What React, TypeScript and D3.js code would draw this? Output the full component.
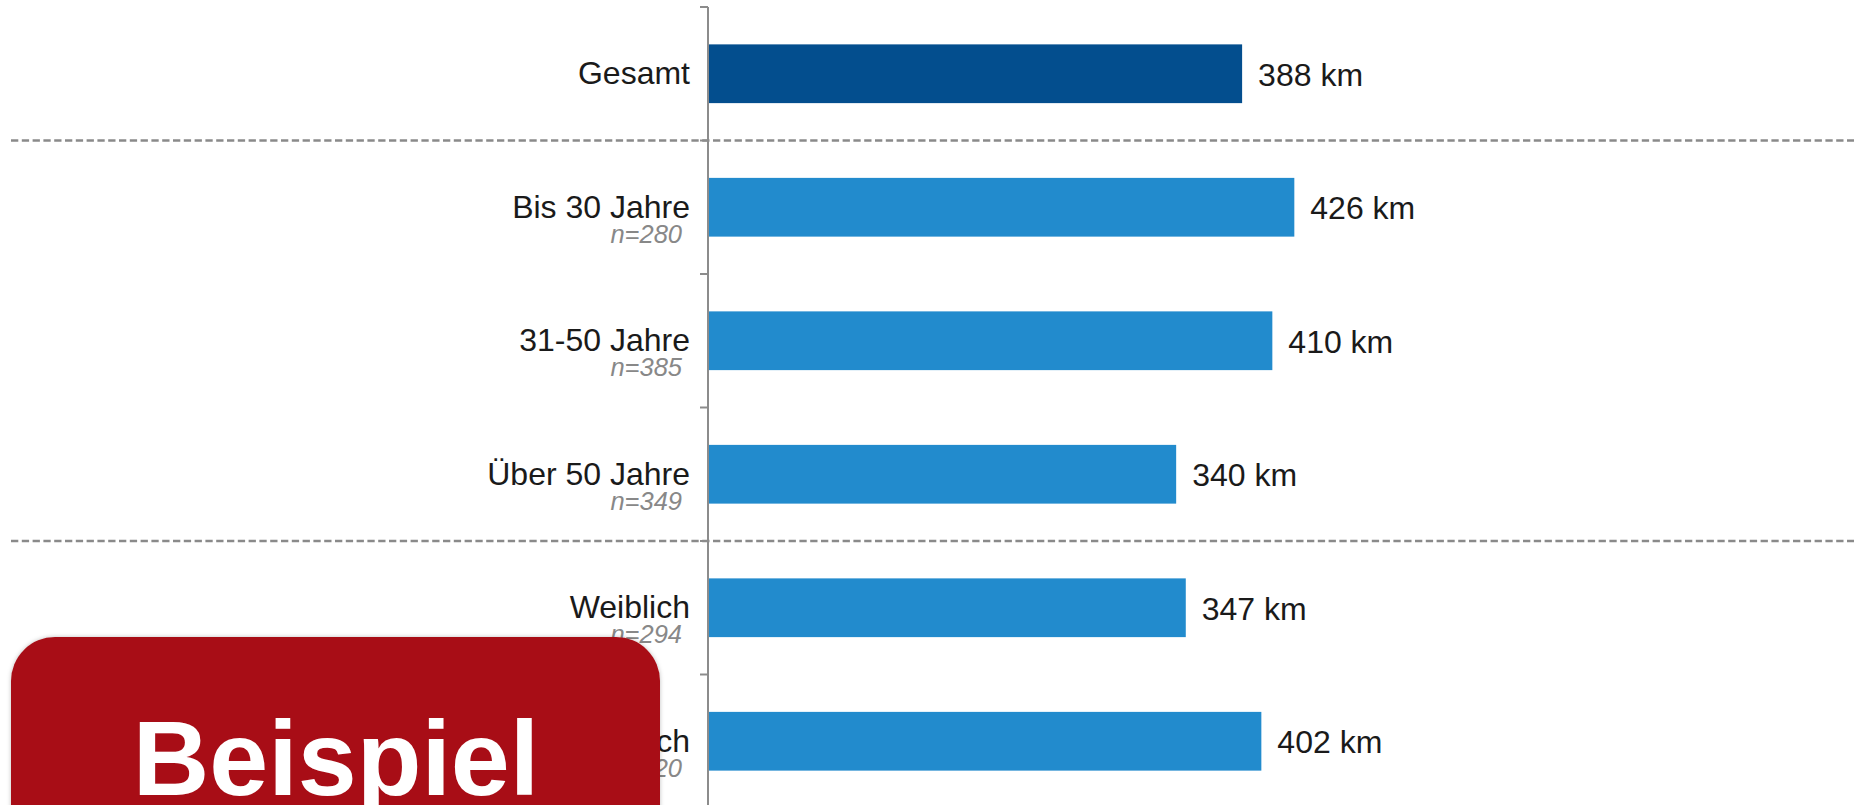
import React from "react";
import * as d3 from "d3";

const categories = ["Gesamt", "Bis 30 Jahre", "31-50 Jahre", "Über 50 Jahre", "Weiblich", "Männlich"];
const values = [388, 426, 410, 340, 347, 402];
const sampleSizes = ["", "n=280", "n=385", "n=349", "n=294", "n=720"];
const unit = "km";
const separatorsAfter = [0, 3];
const stampText = "Beispiel";

const W = 1856;
const H = 805;
const FONT = "'Liberation Sans', Arial, sans-serif";

export default function App() {
  const axisX = 709;
  const y = d3
    .scaleBand<string>()
    .domain(categories)
    .range([7, 808])
    .paddingInner(0.56)
    .paddingOuter(0.28);
  const x = d3.scaleLinear().domain([0, 800]).range([axisX, axisX + 800 * 1.374]);
  const step = y.step();
  const y0 = 7;
  const boundaries = d3.range(categories.length + 1).map((i) => y0 + i * step);

  return (
    <div style={{ position: "absolute", left: 0, top: 0, width: W, height: H, overflow: "hidden", background: "#fff" }}>
      <svg width={W} height={H} style={{ display: "block" }} fontFamily={FONT}>
        <rect x={0} y={0} width={W} height={H} fill="#fff" />
        {/* bars */}
        {categories.map((c, i) => (
          <rect
            key={c}
            x={x(0)}
            y={y(c)!}
            width={x(values[i]) - x(0)}
            height={y.bandwidth()}
            fill={i === 0 ? "#034E8E" : "#228BCD"}
          />
        ))}
        {/* separators */}
        {separatorsAfter.map((i) => (
          <line
            key={"sep" + i}
            x1={11}
            x2={1854}
            y1={boundaries[i + 1]}
            y2={boundaries[i + 1]}
            stroke="#8a8a8a"
            strokeWidth={2.5}
            strokeDasharray="7.3 3.5"
          />
        ))}
        {/* axis */}
        <line x1={axisX - 1} x2={axisX - 1} y1={boundaries[0]} y2={H} stroke="#8c8c8c" strokeWidth={2} />
        {boundaries.map((b, i) => (
          <line key={"t" + i} x1={axisX - 9} x2={axisX - 1} y1={b} y2={b} stroke="#8c8c8c" strokeWidth={2} />
        ))}
        {/* category labels */}
        {categories.map((c, i) => {
          const cy = y(c)! + y.bandwidth() / 2;
          return (
            <g key={"l" + c}>
              <text x={690} y={cy + 10.5} textAnchor="end" fontSize={32} fill="#1a1a1a">
                {c}
              </text>
              {sampleSizes[i] && (
                <text x={682} y={cy + 35.5} textAnchor="end" fontSize={25.5} fontStyle="italic" fill="#888888">
                  {sampleSizes[i]}
                </text>
              )}
              <text x={x(values[i]) + 16} y={cy + 12} fontSize={32} fill="#1a1a1a">
                {`${values[i]} ${unit}`}
              </text>
            </g>
          );
        })}
        {/* stamp */}
        <defs>
          <filter id="sh" x="-10%" y="-10%" width="120%" height="120%">
            <feDropShadow dx={0} dy={0} stdDeviation={2} floodColor="#000" floodOpacity={0.25} />
          </filter>
        </defs>
        <rect x={11} y={637} width={649} height={260} rx={44} ry={44} fill="#A81019" filter="url(#sh)" />
        <text x={336} y={795} textAnchor="middle" fontSize={106} fontWeight="bold" fill="#fff">
          {stampText}
        </text>
      </svg>
    </div>
  );
}
